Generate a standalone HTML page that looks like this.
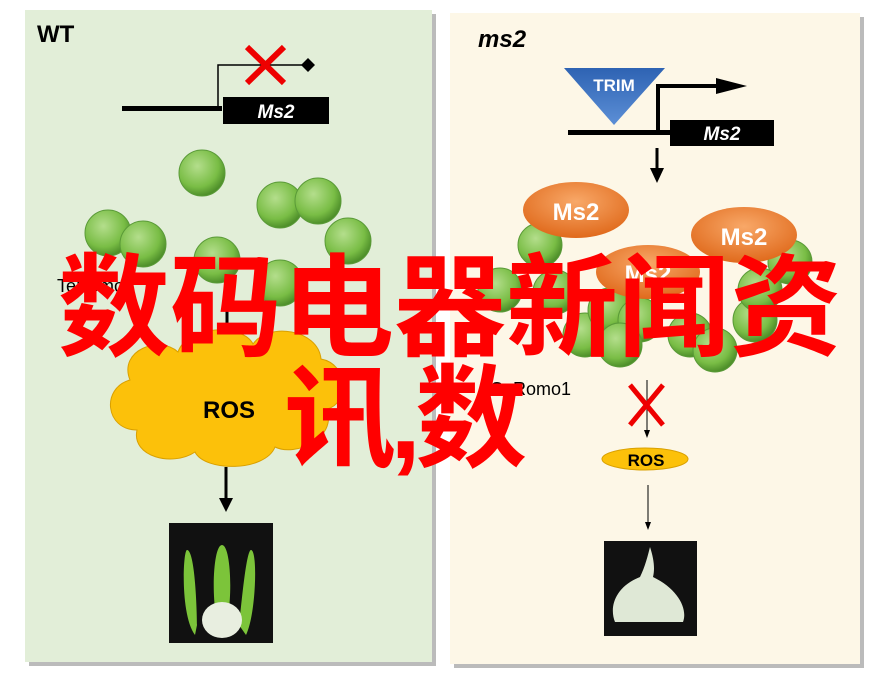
<!DOCTYPE html>
<html><head><meta charset="utf-8"><style>
body{margin:0;width:879px;height:695px;background:#fff;overflow:hidden;position:relative}
svg{position:absolute;left:0;top:0}
.ov{position:absolute;color:#ff0000;font-family:"Liberation Sans","Noto Sans CJK SC",sans-serif;font-weight:bold;white-space:nowrap;line-height:1}
</style></head><body>
<svg width="879" height="695" viewBox="0 0 879 695">
<defs>
<radialGradient id="g" cx="40%" cy="35%" r="65%"><stop offset="0" stop-color="#b4de8c"/><stop offset="0.7" stop-color="#79bd45"/><stop offset="1" stop-color="#4e8f2a"/></radialGradient>
<radialGradient id="o" cx="50%" cy="35%" r="65%"><stop offset="0" stop-color="#f8a868"/><stop offset="1" stop-color="#e06a1c"/></radialGradient>
<linearGradient id="b" x1="0" y1="0" x2="0" y2="1"><stop offset="0" stop-color="#2e63b3"/><stop offset="1" stop-color="#5c8fd6"/></linearGradient>
</defs>
<rect x="29" y="14" width="407" height="652" fill="#bbb"/>
<rect x="25" y="10" width="407" height="652" fill="#e2eed8"/>
<rect x="454" y="17" width="410" height="651" fill="#bbb"/>
<rect x="450" y="13" width="410" height="651" fill="#fdf7e7"/>
<text x="37" y="42" font-family="Liberation Sans" font-weight="bold" font-size="24">WT</text>
<rect x="122" y="106" width="100" height="5" fill="#000"/>
<rect x="223" y="97" width="106" height="27" fill="#000"/>
<text x="276" y="118" font-family="Liberation Sans" font-weight="bold" font-style="italic" font-size="19" fill="#fff" text-anchor="middle">Ms2</text>
<path d="M218 108V65H305" stroke="#000" stroke-width="1.5" fill="none"/>
<path d="M308 58l7 7-7 7-7-7z" fill="#000"/>
<path d="M247 47L284 83M284 47L247 83" stroke="#e00" stroke-width="6"/>
<g fill="url(#g)" stroke="#5a9a38" stroke-width="1">
<circle cx="202" cy="173" r="23"/><circle cx="280" cy="205" r="23"/><circle cx="318" cy="201" r="23"/><circle cx="348" cy="241" r="23"/><circle cx="108" cy="233" r="23"/><circle cx="143" cy="244" r="23"/><circle cx="217" cy="260" r="23"/><circle cx="280" cy="283" r="23"/>
</g>
<text x="57" y="292" font-family="Liberation Sans" font-size="18">TeRomo1</text>
<path d="M227 292V332" stroke="#000" stroke-width="3"/><path d="M221 330h12l-6 12z"/>
<path d="M130 380c-12-30 30-45 48-28c10-28 65-28 75-8c15-22 65-15 68 15c28 5 28 45 6 50c10 30-32 48-52 38c-10 25-70 25-80 5c-22 15-64 5-58-22c-32 0-36-42-7-50z" fill="#fcc10a" stroke="#d9a000"/>
<text x="229" y="418" font-family="Liberation Sans" font-weight="bold" font-size="24" text-anchor="middle">ROS</text>
<path d="M226 467V500" stroke="#000" stroke-width="3"/><path d="M219 498h14l-7 14z"/>
<rect x="169" y="523" width="104" height="120" fill="#111"/>
<path d="M195 635c-15-20-12-85-8-85c8 0 10 60 10 75zM222 635c-12-20-10-90 0-90c10 0 12 70 0 90zM246 635c10-20 12-85 5-85c-5 0-10 60-12 75z" fill="#7cc43a"/>
<ellipse cx="222" cy="620" rx="20" ry="18" fill="#e8eee0"/>
<text x="478" y="47" font-family="Liberation Sans" font-weight="bold" font-style="italic" font-size="24">ms2</text>
<path d="M564 68H665L614 125z" fill="url(#b)"/>
<text x="614" y="91" font-family="Liberation Sans" font-weight="bold" font-size="17" fill="#fff" text-anchor="middle">TRIM</text>
<rect x="568" y="130" width="102" height="5" fill="#000"/>
<rect x="670" y="120" width="104" height="26" fill="#000"/>
<text x="722" y="140" font-family="Liberation Sans" font-weight="bold" font-style="italic" font-size="19" fill="#fff" text-anchor="middle">Ms2</text>
<path d="M658 130V86H720" stroke="#000" stroke-width="4" fill="none"/><path d="M716 78L747 86L716 94z"/>
<path d="M657 148V170" stroke="#000" stroke-width="3"/><path d="M650 168h14l-7 15z"/>
<g fill="url(#g)" stroke="#5a9a38" stroke-width="1">
<circle cx="540" cy="245" r="22"/><circle cx="500" cy="290" r="22"/><circle cx="555" cy="292" r="22"/><circle cx="585" cy="335" r="22"/><circle cx="610" cy="310" r="22"/><circle cx="640" cy="320" r="22"/><circle cx="690" cy="335" r="22"/><circle cx="715" cy="350" r="22"/><circle cx="755" cy="320" r="22"/><circle cx="790" cy="262" r="22"/><circle cx="760" cy="290" r="22"/><circle cx="620" cy="345" r="22"/>
</g>
<ellipse cx="576" cy="210" rx="53" ry="28" fill="url(#o)"/>
<text x="576" y="220" font-family="Liberation Sans" font-weight="bold" font-size="24" fill="#fff" text-anchor="middle">Ms2</text>
<ellipse cx="744" cy="235" rx="53" ry="28" fill="url(#o)"/>
<text x="744" y="245" font-family="Liberation Sans" font-weight="bold" font-size="24" fill="#fff" text-anchor="middle">Ms2</text>
<ellipse cx="648" cy="272" rx="52" ry="27" fill="url(#o)"/>
<text x="648" y="282" font-family="Liberation Sans" font-weight="bold" font-size="24" fill="#fff" text-anchor="middle">Ms2</text>
<text x="490" y="395" font-family="Liberation Sans" font-size="18">OsRomo1</text>
<path d="M647 380V432" stroke="#000" stroke-width="1"/><path d="M644 430h6l-3 8z"/>
<path d="M630 385L663 425M663 385L630 425" stroke="#e00" stroke-width="5"/>
<ellipse cx="645" cy="459" rx="43" ry="11" fill="#fcc10a" stroke="#d9a000"/>
<text x="646" y="466" font-family="Liberation Sans" font-weight="bold" font-size="17" text-anchor="middle">ROS</text>
<path d="M648 485V523" stroke="#000" stroke-width="1"/><path d="M645 522h6l-3 8z"/>
<rect x="604" y="541" width="93" height="95" fill="#111"/>
<path d="M615 622c-6-15 0-35 25-45c5-10 8-22 10-30c4 12 5 22 3 30c25 12 35 32 30 45z" fill="#dfe8d6"/>
</svg>
<div class="ov" style="left:58px;top:253px;font-size:112px;letter-spacing:0px">数码电器新闻资</div>
<div class="ov" style="left:284px;top:364px;font-size:112px;letter-spacing:-6px">讯,数</div>
</body></html>
